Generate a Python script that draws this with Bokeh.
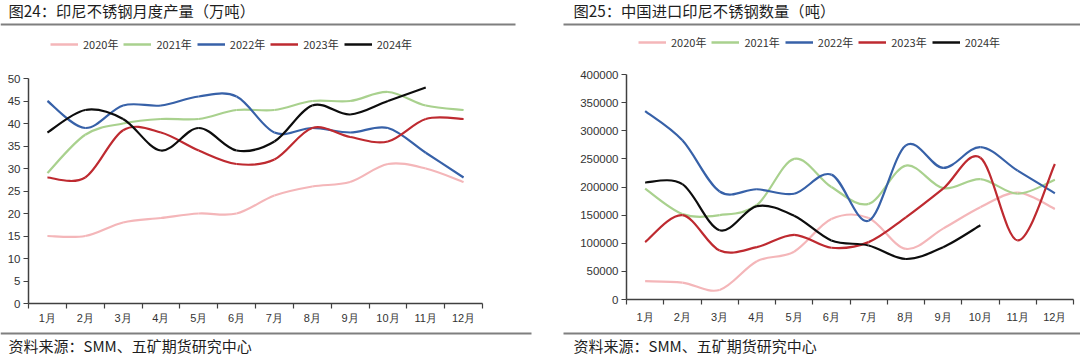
from bokeh.plotting import figure
from bokeh.models import (Range1d, FixedTicker, Legend, LegendItem, BasicTickFormatter)
from bokeh.layouts import row, column
from bokeh.embed import file_html
from bokeh.resources import INLINE
from bokeh.core.properties import value

# ---------------- data ----------------
months = ["1月", "2月", "3月", "4月", "5月", "6月", "7月", "8月", "9月", "10月", "11月", "12月"]
years = ["2020年", "2021年", "2022年", "2023年", "2024年"]

# 图24 印尼不锈钢月度产量（万吨）
prod_2020 = [15, 15, 18, 19, 20, 20, 24, 26, 27, 31, 30, 27]
prod_2021 = [29, 37.5, 40, 41, 41, 43, 43, 45, 45, 47, 44, 43]
prod_2022 = [45, 39, 44, 44, 46, 46, 38, 39, 38, 39, 33.5, 28]
prod_2023 = [28, 28, 38.5, 38, 34, 31, 32, 39, 37, 36, 41, 41]
prod_2024 = [38, 43, 41, 34, 39, 34, 36, 44, 42, 45, 48]

# 图25 中国进口印尼不锈钢数量（吨）
imp_2020 = [32500, 30000, 17000, 68000, 85000, 143000, 145000, 90000, 126000, 164000, 190000, 161000]
imp_2021 = [197000, 152000, 150000, 168000, 250000, 200000, 170000, 238000, 198000, 214000, 188000, 213000]
imp_2022 = [335000, 283000, 192000, 196000, 188000, 222000, 140000, 274000, 234000, 271000, 229000, 189000]
imp_2023 = [102000, 150000, 87000, 93000, 115000, 92000, 102000, 146000, 197000, 252000, 105000, 241000]
imp_2024 = [208000, 205000, 123000, 166000, 149000, 105000, 96000, 72000, 93000, 132000]

titles = ["图24：印尼不锈钢月度产量（万吨）", "图25：中国进口印尼不锈钢数量（吨）"]
source = "资料来源：SMM、五矿期货研究中心"

colors = ["#F4B6B9", "#A9D18E", "#3761A8", "#BE2A30", "#0D0D0D"]

CJK = "Noto Sans CJK SC"
NUM = "Liberation Sans"
AX = "#404040"
W = 1080


def smooth_segments(vals):
    """Bezier control points (Catmull-Rom style, like a spreadsheet 'smoothed line')."""
    xs = [i + 1 for i in range(len(vals))]
    n = len(vals)
    out = dict(x0=[], y0=[], x1=[], y1=[], cx0=[], cy0=[], cx1=[], cy1=[])
    for i in range(n - 1):
        pxm, pym = (xs[i - 1], vals[i - 1]) if i > 0 else (xs[i], vals[i])
        px2, py2 = (xs[i + 2], vals[i + 2]) if i + 2 < n else (xs[i + 1], vals[i + 1])
        out["x0"].append(xs[i]); out["y0"].append(vals[i])
        out["x1"].append(xs[i + 1]); out["y1"].append(vals[i + 1])
        out["cx0"].append(xs[i] + (xs[i + 1] - pxm) / 6.0)
        out["cy0"].append(vals[i] + (vals[i + 1] - pym) / 6.0)
        out["cx1"].append(xs[i + 1] - (px2 - xs[i]) / 6.0)
        out["cy1"].append(vals[i + 1] - (py2 - vals[i]) / 6.0)
    return out


def make_chart(series, ymax, yint, width, height, mb_left, mb_right, mb_top, mb_bottom, xstand):
    p = figure(width=width, height=height, output_backend="svg", toolbar_location=None,
               title=None, x_range=Range1d(0.5, 12.5), y_range=Range1d(0, ymax),
               min_border_left=mb_left, min_border_right=mb_right,
               min_border_top=mb_top, min_border_bottom=mb_bottom)
    p.outline_line_color = None
    p.grid.visible = False
    p.background_fill_color = "white"
    p.border_fill_color = "white"

    xa = p.xaxis[0]
    xa.ticker = FixedTicker(ticks=list(range(1, 13)),
                            minor_ticks=[i + 0.5 for i in range(0, 13)])
    xa.major_label_overrides = {i + 1: m for i, m in enumerate(months)}
    xa.major_tick_line_color = None
    xa.major_tick_out = 0
    xa.major_tick_in = 0
    xa.minor_tick_out = 5
    xa.minor_tick_in = 0
    xa.minor_tick_line_color = AX
    xa.minor_tick_line_width = 1.2
    xa.axis_line_color = AX
    xa.axis_line_width = 1.5
    xa.major_label_text_font = NUM
    xa.major_label_text_font_size = "11px"
    xa.major_label_text_color = "#333333"
    xa.major_label_standoff = xstand

    ya = p.yaxis[0]
    ya.ticker = FixedTicker(ticks=[i * yint for i in range(int(ymax / yint) + 1)])
    ya.formatter = BasicTickFormatter(use_scientific=False)
    ya.major_tick_out = 5
    ya.major_tick_in = 0
    ya.minor_tick_line_color = None
    ya.major_tick_line_color = AX
    ya.major_tick_line_width = 1.2
    ya.axis_line_color = AX
    ya.axis_line_width = 1.5
    ya.major_label_text_font = NUM
    ya.major_label_text_font_size = "11.5px"
    ya.major_label_text_color = "#333333"
    ya.major_label_standoff = 3

    for vals, c in zip(series, colors):
        p.bezier(source=smooth_segments(vals), x0="x0", y0="y0", x1="x1", y1="y1",
                 cx0="cx0", cy0="cy0", cx1="cx1", cy1="cy1",
                 line_color=c, line_width=2.2)
    return p


CH = 271
p1 = make_chart([prod_2020, prod_2021, prod_2022, prod_2023, prod_2024], 50, 5,
                540, CH, 28, 58, 18, 28, 3)
p2 = make_chart([imp_2020, imp_2021, imp_2022, imp_2023, imp_2024], 400000, 50000,
                540, CH, 86, 7, 14, 32, 6)

# ---------------- header: titles, rules, legends ----------------
HH = 60
header = figure(width=W, height=HH, output_backend="svg", toolbar_location=None, title=None,
                x_range=Range1d(0, W), y_range=Range1d(HH, 0), min_border=0,
                x_axis_location=None, y_axis_location=None)
header.outline_line_color = None
header.grid.visible = False
header.segment(x0=[0, 563], y0=[24, 24], x1=[515, W], y1=[24, 24],
               line_color="#7F7F7F", line_width=2)
header.text(x=[8, 573], y=[9, 9], text=titles,
            text_font=value(CJK), text_font_size="15.3px", text_baseline="middle",
            text_color="#1E1E1E")


def legend_in_header(loc):
    items = []
    for name, c in zip(years, colors):
        # legend swatch carrier: kept outside the visible range of the header
        r = header.line(x=[-20, -10], y=[-20, -20], line_color=c, line_width=2.5)
        items.append(LegendItem(label=name, renderers=[r]))
    leg = Legend(items=items, orientation="horizontal", location=loc,
                 padding=0, margin=0, spacing=5, glyph_width=28, glyph_height=16,
                 label_height=16, label_standoff=5, label_text_font=CJK,
                 label_text_font_size="11px", label_text_color="#333333",
                 border_line_color=None, background_fill_alpha=0)
    header.add_layout(leg)


legend_in_header((50, 8))
legend_in_header((638, 10))

# ---------------- footer: rules and sources ----------------
FH = 360 - HH - CH
footer = figure(width=W, height=FH, output_backend="svg", toolbar_location=None, title=None,
                x_range=Range1d(0, W), y_range=Range1d(FH, 0), min_border=0,
                x_axis_location=None, y_axis_location=None)
footer.outline_line_color = None
footer.grid.visible = False
footer.segment(x0=[0, 563], y0=[2, 2], x1=[531, W], y1=[2, 2],
               line_color="#7F7F7F", line_width=2)
footer.text(x=[8, 573], y=[14, 14], text=[source, source],
            text_font=value(CJK), text_font_size="15px", text_baseline="middle",
            text_color="#1E1E1E")

layout = column(header, row(column(p1), column(p2), spacing=0), footer, spacing=0)
open("out.html", "w").write(file_html(layout, INLINE))
